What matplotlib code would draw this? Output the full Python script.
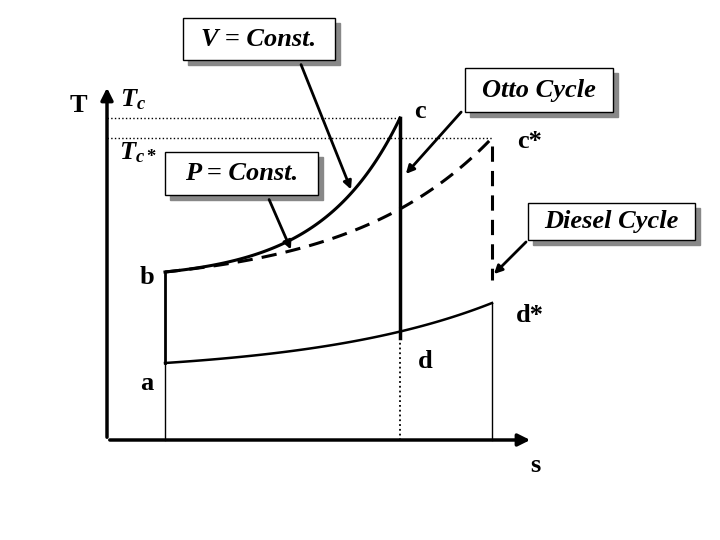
import numpy as np
import matplotlib
matplotlib.use("Agg")
import matplotlib.pyplot as plt
from matplotlib.patches import Rectangle

plt.rcParams["mathtext.fontset"] = "custom"
plt.rcParams["mathtext.rm"] = "Liberation Serif:bold"
plt.rcParams["mathtext.bf"] = "Liberation Serif:bold"
plt.rcParams["mathtext.it"] = "Liberation Serif:bold:italic"

# state points (pixel-like diagram coordinates)
pt_names = ["a", "b", "c", "d", "c*", "d*"]
pt_x = [165, 165, 400, 400, 492, 492]
pt_y = [363, 272, 118, 338, 138, 303]
P = dict(zip(pt_names, zip(pt_x, pt_y)))

# curve shapes
otto_k = 3.0      # b->c steepness
diesel_k = 2.3    # b->c* steepness
low_k = 1.8       # a->d* steepness

fig = plt.figure(figsize=(7.2, 5.4), dpi=100)
ax = fig.add_axes([0, 0, 1, 1])
ax.set_xlim(0, 720); ax.set_ylim(540, 0); ax.axis("off")
serif = "Liberation Serif"

def expcurve(p0, p1, k, n=100):
    t = np.linspace(0, 1, n)
    f = (np.exp(k*t)-1)/(np.exp(k)-1)
    return p0[0]+(p1[0]-p0[0])*t, p0[1]+(p1[1]-p0[1])*f

# axes
ax.annotate("", xy=(107, 85), xytext=(107, 440), arrowprops=dict(arrowstyle="-|>", lw=2.5, color="black", mutation_scale=18))
ax.annotate("", xy=(533, 440), xytext=(107, 440), arrowprops=dict(arrowstyle="-|>", lw=2.5, color="black", mutation_scale=18))

# dotted levels
ax.plot([107, P["c"][0]], [P["c"][1]]*2, ":", color="black", lw=1)
ax.plot([107, P["c*"][0]], [P["c*"][1]]*2, ":", color="black", lw=1)

# otto
x, y = expcurve(P["b"], P["c"], otto_k); ax.plot(x, y, color="black", lw=2.2)
ax.plot([P["c"][0]]*2, [P["c"][1], P["d"][1]], color="black", lw=2.5)
ax.plot([P["d"][0]]*2, [P["d"][1], 440], ":", color="black", lw=1.3)
ax.plot([P["b"][0]]*2, [P["b"][1], P["a"][1]], color="black", lw=2)
ax.plot([P["a"][0]]*2, [P["a"][1], 440], color="black", lw=1)
x, y = expcurve(P["a"], P["d*"], low_k); ax.plot(x, y, color="black", lw=1.8)
# diesel
x, y = expcurve(P["b"], P["c*"], diesel_k); ax.plot(x, y, "--", color="black", lw=2.2, dashes=(5, 3))
ax.plot([P["c*"][0]]*2, [P["c*"][1]+8, 280], "--", color="black", lw=2.2, dashes=(5, 3))
ax.plot([P["d*"][0]]*2, [P["d*"][1], 440], color="black", lw=1)

lab = dict(fontsize=19, fontweight="bold", family=serif, ha="center", va="center")
ax.text(78, 106, "T", **lab)
ax.text(133, 99, r"$T_c$", fontsize=19, ha="center", va="center")
ax.text(138, 152, r"$T_{c*}$", fontsize=19, ha="center", va="center")
ax.text(420, 112, "c", **lab); ax.text(530, 142, "c*", **lab)
ax.text(147, 278, "b", **lab); ax.text(147, 383, "a", **lab)
ax.text(425, 362, "d", **lab); ax.text(530, 316, "d*", **lab)
ax.text(535, 465, "s", **lab)

def box(x0, y0, x1, y1, text):
    ax.add_patch(Rectangle((x0+5, y0+5), x1-x0, y1-y0, color="#888888", zorder=3))
    ax.add_patch(Rectangle((x0, y0), x1-x0, y1-y0, facecolor="white", edgecolor="black", lw=1, zorder=4))
    ax.text((x0+x1)/2, (y0+y1)/2, text, fontsize=19, fontweight="bold", style="italic",
            family=serif, ha="center", va="center", zorder=5)

box(183, 18, 335, 60, "V = Const.")
box(165, 152, 318, 195, "P = Const.")
box(465, 68, 613, 112, "Otto Cycle")
box(528, 203, 695, 240, "Diesel Cycle")

arr = dict(arrowstyle="-|>", lw=2, color="black", mutation_scale=12)
ax.annotate("", xy=(352, 192), xytext=(300, 62), arrowprops=arr)
ax.annotate("", xy=(292, 252), xytext=(268, 197), arrowprops=arr)
ax.annotate("", xy=(404, 176), xytext=(463, 110), arrowprops=arr)
ax.annotate("", xy=(492, 276), xytext=(528, 240), arrowprops=arr)

fig.savefig("out.png", dpi=100)
